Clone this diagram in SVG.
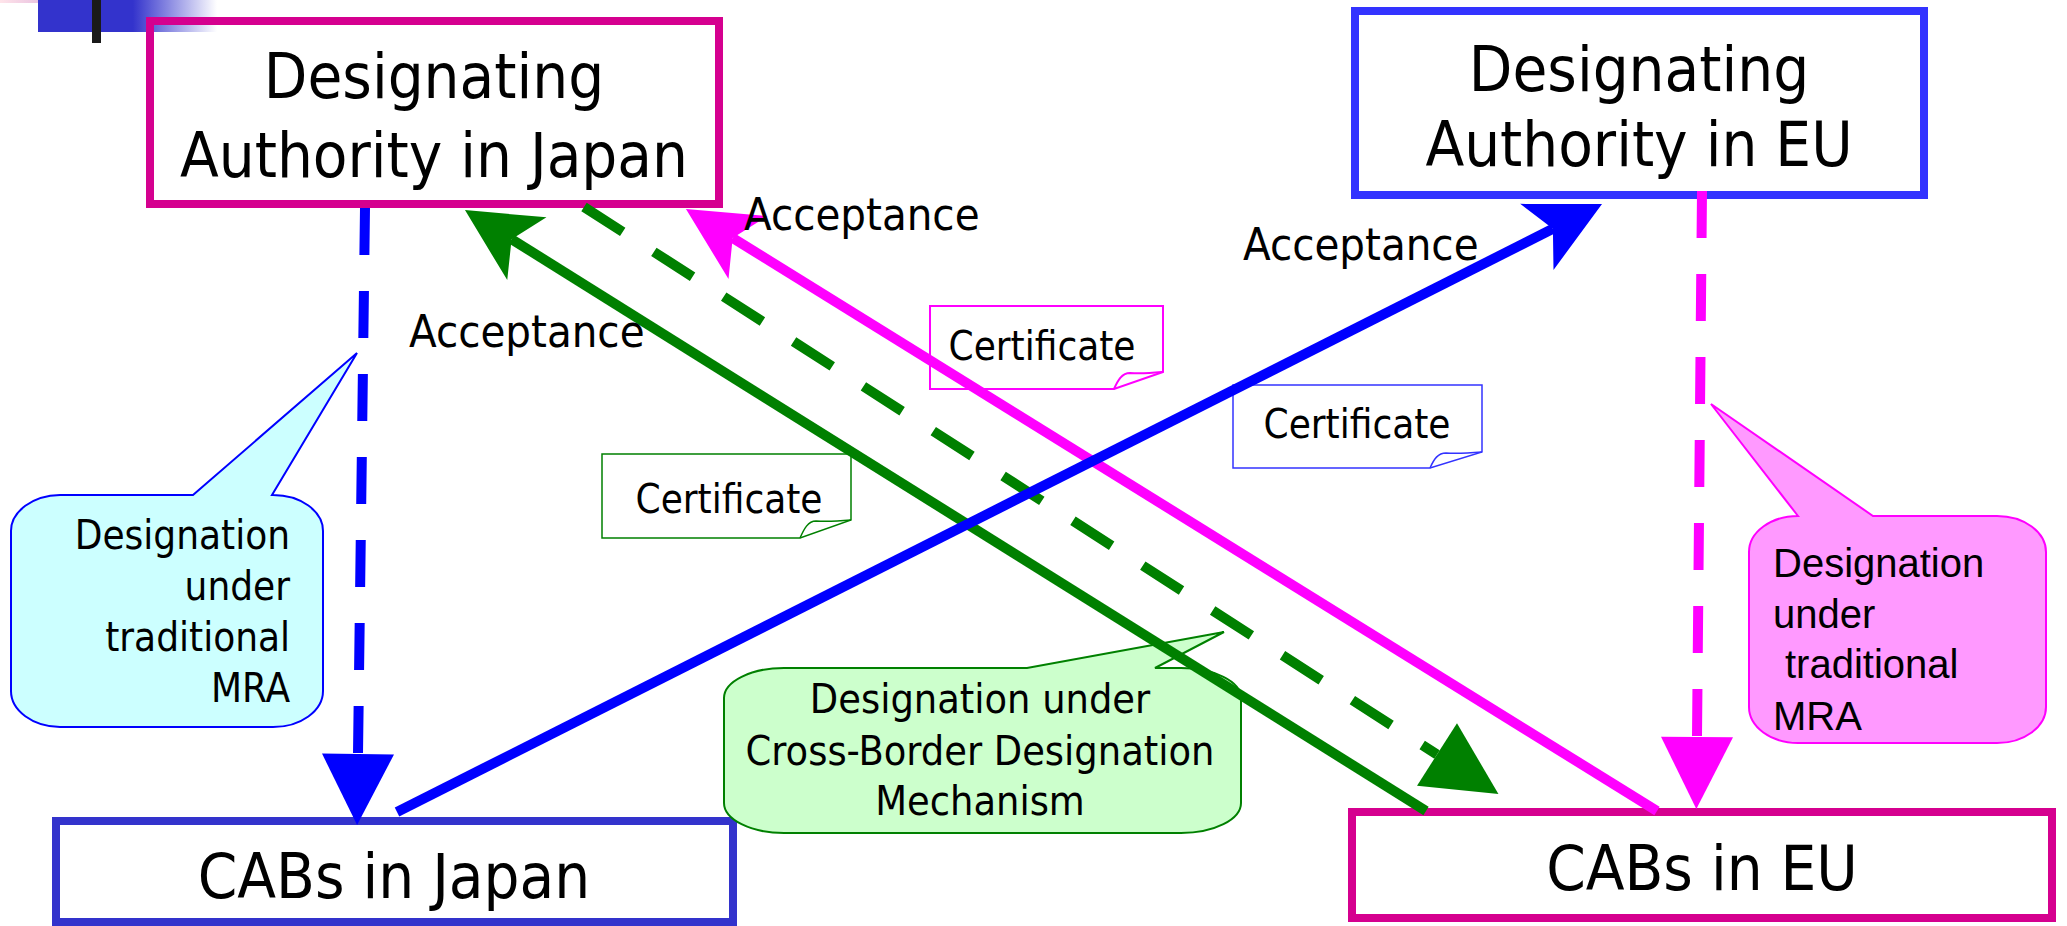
<svg xmlns="http://www.w3.org/2000/svg" width="2067" height="926" viewBox="0 0 2067 926">
  <style>
    .t { font-family: 'DejaVu Sans Condensed', 'DejaVu Sans', sans-serif; font-stretch: condensed; fill: #000; }
    .title { font-size: 63px; text-anchor: middle; }
    .lbl { font-size: 45px; }
    .cert { font-size: 40px; text-anchor: middle; }
    .call { font-size: 40px; }
    .arial { font-family: 'Liberation Sans', Arial, sans-serif; font-size: 40px; fill: #000; }
    .box { fill: none; stroke-width: 8; }
    .note { fill: #fff; }
    .solid { fill: none; stroke-width: 10; stroke-linecap: butt; }
    .dash { fill: none; stroke-width: 10; stroke-dasharray: 47 36; stroke-linecap: butt; }
  </style>
  <defs>
    <linearGradient id="bandFade" x1="38" y1="0" x2="217" y2="0" gradientUnits="userSpaceOnUse">
      <stop offset="0" stop-color="#3333CC"/>
      <stop offset="0.53" stop-color="#3333CC"/>
      <stop offset="1" stop-color="#3333CC" stop-opacity="0"/>
    </linearGradient>
    <linearGradient id="pinkStrip" x1="0" y1="0" x2="73" y2="0" gradientUnits="userSpaceOnUse">
      <stop offset="0" stop-color="#FFE4EA"/>
      <stop offset="1" stop-color="#D8A8D8"/>
    </linearGradient>
    <!-- notched heads for the solid "Acceptance" arrows; origin = notch -->
    <marker id="stealthGreen" markerUnits="userSpaceOnUse" orient="auto" overflow="visible" markerWidth="1" markerHeight="1">
      <path d="M55,0 L-18,-37 L0,0 L-18,37 Z" fill="#008000"/>
    </marker>
    <marker id="stealthMagenta" markerUnits="userSpaceOnUse" orient="auto" overflow="visible" markerWidth="1" markerHeight="1">
      <path d="M55,0 L-18,-37 L0,0 L-18,37 Z" fill="#FF00FF"/>
    </marker>
    <marker id="stealthBlue" markerUnits="userSpaceOnUse" orient="auto" overflow="visible" markerWidth="1" markerHeight="1">
      <path d="M55,0 L-18,-37 L0,0 L-18,37 Z" fill="#0000FF"/>
    </marker>
    <!-- plain triangular heads for the dashed designation arrows; origin = base centre -->
    <marker id="triBlue" markerUnits="userSpaceOnUse" orient="auto" overflow="visible" markerWidth="1" markerHeight="1">
      <path d="M0,-36 L71,0 L0,36 Z" fill="#0000FF"/>
    </marker>
    <marker id="triMagenta" markerUnits="userSpaceOnUse" orient="auto" overflow="visible" markerWidth="1" markerHeight="1">
      <path d="M0,-36 L72,0 L0,36 Z" fill="#FF00FF"/>
    </marker>
    <marker id="triGreen" markerUnits="userSpaceOnUse" orient="auto" overflow="visible" markerWidth="1" markerHeight="1">
      <path d="M0,-37 L73,0 L0,37 Z" fill="#008000"/>
    </marker>
  </defs>

  <rect width="2067" height="926" fill="#fff"/>

  <!-- slide corner ornament -->
  <g id="ornament">
    <rect x="0" y="0" width="73" height="3" fill="url(#pinkStrip)"/>
    <rect x="38" y="0" width="179" height="32" fill="url(#bandFade)"/>
    <rect x="92" y="0" width="9" height="43" fill="#1A1A1A"/>
  </g>

  <!-- nodes -->
  <g id="da-japan">
    <rect class="box" x="150" y="21" width="569" height="183" stroke="#D5008F"/>
    <text class="t title" x="434" y="98">Designating</text>
    <text class="t title" x="434" y="177">Authority in Japan</text>
  </g>
  <g id="da-eu">
    <rect class="box" x="1355" y="11" width="569" height="184" stroke="#3333FF"/>
    <text class="t title" x="1639" y="91">Designating</text>
    <text class="t title" x="1639" y="166">Authority in EU</text>
  </g>
  <g id="cabs-japan">
    <rect class="box" x="56" y="821" width="677" height="101" fill="#fff" stroke="#3333CC"/>
    <text class="t title" x="394" y="898">CABs in Japan</text>
  </g>
  <g id="cabs-eu">
    <rect class="box" x="1352" y="812" width="700" height="106" fill="#fff" stroke="#D5008F"/>
    <text class="t title" x="1702" y="890">CABs in EU</text>
  </g>

  <!-- callouts -->
  <g id="callout-japan">
    <path d="M60,495 L193,495 L357,353 L272,495 L273,495 A50 36 0 0 1 323,531 L323,691 A50 36 0 0 1 273,727 L60,727 A50 36 0 0 1 11,691 L11,531 A50 36 0 0 1 60,495 Z" fill="#CCFFFF" stroke="#0000FF" stroke-width="2"/>
    <text class="t call" text-anchor="end" x="290" y="549">Designation</text>
    <text class="t call" text-anchor="end" x="290" y="600">under</text>
    <text class="t call" text-anchor="end" x="290" y="651">traditional</text>
    <text class="t call" text-anchor="end" x="290" y="702">MRA</text>
  </g>
  <g id="callout-eu">
    <path d="M1798,516 L1711,404 L1873,516 L1997,516 A49 36 0 0 1 2046,552 L2046,707 A49 36 0 0 1 1997,743 L1798,743 A49 36 0 0 1 1749,707 L1749,552 A49 36 0 0 1 1798,516 Z" fill="#FF99FF" stroke="#FF00FF" stroke-width="2"/>
    <text class="arial" x="1773" y="577">Designation</text>
    <text class="arial" x="1773" y="628">under</text>
    <text class="arial" x="1785" y="678">traditional</text>
    <text class="arial" x="1773" y="730">MRA</text>
  </g>
  <g id="callout-cross-border">
    <path d="M784,668 L1027,668 L1224,632 L1155,668 L1181,668 A60 30 0 0 1 1241,698 L1241,803 A60 30 0 0 1 1181,833 L784,833 A60 30 0 0 1 724,803 L724,698 A60 30 0 0 1 784,668 Z" fill="#CCFFCC" stroke="#008000" stroke-width="2"/>
    <text class="t call" text-anchor="middle" x="980" y="713" style="font-size:41px">Designation under</text>
    <text class="t call" text-anchor="middle" x="980" y="765" style="font-size:41px">Cross-Border Designation</text>
    <text class="t call" text-anchor="middle" x="980" y="815" style="font-size:41px">Mechanism</text>
  </g>

  <!-- certificate notes with folded corner -->
  <g id="cert-magenta" stroke="#FF00FF" stroke-width="2">
    <path class="note" d="M930,306 H1163 V372 L1114,389 H930 Z"/>
    <path d="M1114,389 C1118,380 1122,373 1130,373 C1142,374 1152,373 1163,372" fill="none"/>
  </g>
  <g id="cert-blue" stroke="#3333FF" stroke-width="1.5">
    <path class="note" d="M1233,385 H1482 V452 L1430,468 H1233 Z"/>
    <path d="M1430,468 C1434,459 1438,453 1446,453 C1458,454 1470,453 1482,452" fill="none"/>
  </g>
  <g id="cert-green" stroke="#008000" stroke-width="1.5">
    <path class="note" d="M602,454 H851 V520 L800,538 H602 Z"/>
    <path d="M800,538 C804,529 808,521 816,521 C828,522 840,521 851,520" fill="none"/>
  </g>

  <!-- connectors -->
  <g id="connectors">
    <path class="dash" d="M365,208 L358,754" stroke="#0000FF" marker-end="url(#triBlue)"/>
    <path class="dash" d="M1702,191 L1697,737" stroke="#FF00FF" marker-end="url(#triMagenta)"/>
    <path class="dash" d="M584,207 L1437,754.5" stroke="#008000" style="stroke-dasharray:46 37" marker-end="url(#triGreen)"/>
    <path class="solid" d="M1426,811 L511.6,239.2" stroke="#008000" marker-end="url(#stealthGreen)"/>
    <path class="solid" d="M1657,811 L732.7,238" stroke="#FF00FF" marker-end="url(#stealthMagenta)"/>
    <path class="solid" d="M397,812 L1552.9,228.8" stroke="#0000FF" marker-end="url(#stealthBlue)"/>
  </g>

  <!-- connector labels -->
  <g id="labels">
    <text class="t lbl" x="744" y="230">Acceptance</text>
    <text class="t lbl" x="409" y="347">Acceptance</text>
    <text class="t lbl" x="1243" y="260">Acceptance</text>
    <text class="t cert" x="1042" y="360">Certificate</text>
    <text class="t cert" x="1357" y="438">Certificate</text>
    <text class="t cert" x="729" y="513">Certificate</text>
  </g>
</svg>
